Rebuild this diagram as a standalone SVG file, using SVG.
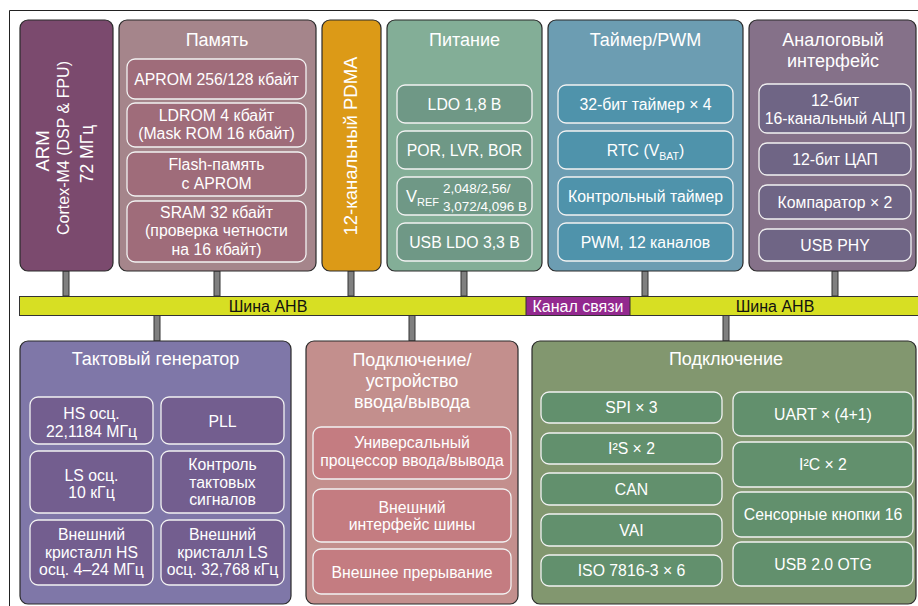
<svg xmlns="http://www.w3.org/2000/svg" width="918" height="606" viewBox="0 0 918 606">
  <defs>
    <style>
      .box { stroke: #2b2b2b; stroke-width: 1.2; }
      .sub { stroke: #f2f2f2; stroke-width: 1.3; }
      .link { fill: #808080; stroke: #333333; stroke-width: 1; }
      text { font-family: "Liberation Sans", Arial, sans-serif; fill: #ffffff; text-anchor: middle; }
      .title { font-size: 18px; }
      .t { font-size: 15.8px; }
      .small { font-size: 13.5px; text-anchor: start; }
      .bus { font-size: 16px; fill: #111111; }
    </style>
  </defs>

  <rect width="918" height="606" fill="#ffffff"/>
  <!-- outer frame -->
  <path d="M9.5 606 V10.5 H918" fill="none" stroke="#222222" stroke-width="1"/>

  <!-- bus stubs -->
  <g id="connectors">
    <rect class="link" x="63" y="271" width="6" height="25"/>
    <rect class="link" x="214" y="271" width="6" height="25"/>
    <rect class="link" x="348" y="271" width="6" height="25"/>
    <rect class="link" x="461" y="271" width="6" height="25"/>
    <rect class="link" x="642" y="271" width="6" height="25"/>
    <rect class="link" x="832" y="271" width="6" height="25"/>
    <rect class="link" x="154" y="315" width="6" height="26"/>
    <rect class="link" x="409" y="315" width="6" height="26"/>
    <rect class="link" x="723" y="315" width="6" height="26"/>
  </g>

  <!-- AHB bus -->
  <g id="bus">
    <rect x="19.5" y="296.5" width="900" height="19" fill="#d7df23" stroke="#333333" stroke-width="1"/>
    <rect x="526" y="296.5" width="104" height="19" fill="#93298f" stroke="#333333" stroke-width="1"/>
    <text class="bus" x="268" y="311.5">Шина AHB</text>
    <text class="bus" x="578" y="311.5" style="fill:#ffffff">Канал связи</text>
    <text class="bus" x="775" y="311.5">Шина AHB</text>
  </g>

  <!-- CPU core -->
  <g id="arm">
    <rect class="box" x="20" y="20" width="93" height="251" rx="8" fill="#7b4a6e"/>
    <text x="0" y="0" transform="translate(49 151) rotate(-90)" style="font-size:18.5px">ARM</text>
    <text x="0" y="0" transform="translate(68.5 148) rotate(-90)" style="font-size:16px">Cortex-M4 (DSP &amp; FPU)</text>
    <text x="0" y="0" transform="translate(93 154) rotate(-90)" style="font-size:17.5px">72 МГц</text>
  </g>

  <!-- memory -->
  <g id="memory">
    <rect class="box" x="119" y="20" width="197" height="251" rx="8" fill="#a5858b"/>
    <text class="title" x="217" y="46">Память</text>
    <rect class="sub" x="127" y="59" width="179" height="40" rx="8" fill="#9f6c7a"/>
    <text class="t" x="216.5" y="84.5">APROM 256/128 кбайт</text>
    <rect class="sub" x="127" y="103" width="179" height="44" rx="8" fill="#9f6c7a"/>
    <text class="t" x="216.5" y="121">LDROM 4 кбайт</text>
    <text class="t" x="216.5" y="139">(Mask ROM 16 кбайт)</text>
    <rect class="sub" x="127" y="152" width="179" height="44" rx="8" fill="#9f6c7a"/>
    <text class="t" x="216.5" y="170">Flash-память</text>
    <text class="t" x="216.5" y="188.5">с APROM</text>
    <rect class="sub" x="127" y="201" width="179" height="61" rx="8" fill="#9f6c7a"/>
    <text class="t" x="216.5" y="217.5">SRAM 32 кбайт</text>
    <text class="t" x="216.5" y="236">(проверка четности</text>
    <text class="t" x="216.5" y="254.5">на 16 кбайт)</text>
  </g>

  <!-- DMA -->
  <g id="pdma">
    <rect class="box" x="322" y="20" width="59" height="251" rx="8" fill="#dc9a17"/>
    <text x="0" y="0" transform="translate(357 146) rotate(-90)" style="font-size:18.5px">12-канальный PDMA</text>
  </g>

  <!-- power -->
  <g id="power">
    <rect class="box" x="387" y="20" width="155" height="251" rx="8" fill="#83ae97"/>
    <text class="title" x="464.5" y="46">Питание</text>
    <rect class="sub" x="397" y="85" width="135" height="38" rx="8" fill="#6f9886"/>
    <text class="t" x="464.5" y="109.5">LDO 1,8 В</text>
    <rect class="sub" x="397" y="131" width="135" height="38" rx="8" fill="#6f9886"/>
    <text class="t" x="464.5" y="155.5">POR, LVR, BOR</text>
    <rect class="sub" x="397" y="177" width="135" height="38" rx="8" fill="#6f9886"/>
    <text x="406" y="202" style="font-size:16.5px;text-anchor:start">V<tspan style="font-size:11px" dy="4">REF</tspan></text>
    <text class="small" x="443" y="192.5">2,048/2,56/</text>
    <text class="small" x="443" y="210.5">3,072/4,096 В</text>
    <rect class="sub" x="397" y="223" width="135" height="38" rx="8" fill="#6f9886"/>
    <text class="t" x="464.5" y="247.5">USB LDO 3,3 В</text>
  </g>

  <!-- timers -->
  <g id="timer">
    <rect class="box" x="548" y="20" width="195" height="251" rx="8" fill="#6c9db2"/>
    <text class="title" x="645.5" y="46">Таймер/PWM</text>
    <rect class="sub" x="558" y="85" width="175" height="38" rx="8" fill="#4f93ab"/>
    <text class="t" x="645.5" y="109.5">32-бит таймер × 4</text>
    <rect class="sub" x="558" y="131" width="175" height="38" rx="8" fill="#4f93ab"/>
    <text class="t" x="645.5" y="155.5">RTC (V<tspan style="font-size:10.5px" dy="4">BAT</tspan><tspan dy="-4">)</tspan></text>
    <rect class="sub" x="558" y="177" width="175" height="38" rx="8" fill="#4f93ab"/>
    <text class="t" x="645.5" y="201.5">Контрольный таймер</text>
    <rect class="sub" x="558" y="223" width="175" height="38" rx="8" fill="#4f93ab"/>
    <text class="t" x="645.5" y="247.5">PWM, 12 каналов</text>
  </g>

  <!-- analog -->
  <g id="analog">
    <rect class="box" x="749" y="20" width="167" height="251" rx="8" fill="#857189"/>
    <text class="title" x="833" y="46">Аналоговый</text>
    <text class="title" x="833" y="67">интерфейс</text>
    <rect class="sub" x="759" y="84" width="152" height="49" rx="8" fill="#6f6585"/>
    <text class="t" x="835" y="106">12-бит</text>
    <text class="t" x="835" y="124">16-канальный АЦП</text>
    <rect class="sub" x="759" y="143" width="152" height="32" rx="8" fill="#6f6585"/>
    <text class="t" x="835" y="164.5">12-бит ЦАП</text>
    <rect class="sub" x="759" y="185" width="152" height="34" rx="8" fill="#6f6585"/>
    <text class="t" x="835" y="207.5">Компаратор × 2</text>
    <rect class="sub" x="759" y="229" width="152" height="32" rx="8" fill="#6f6585"/>
    <text class="t" x="835" y="250.5">USB PHY</text>
  </g>

  <!-- clock -->
  <g id="clock">
    <rect class="box" x="20" y="341" width="271" height="263" rx="8" fill="#7f77a8"/>
    <text class="title" x="155.5" y="365">Тактовый генератор</text>
    <rect class="sub" x="30" y="397" width="123" height="47" rx="8" fill="#735e8f"/>
    <text class="t" x="91.5" y="418.5">HS осц.</text>
    <text class="t" x="91.5" y="436.5">22,1184 МГц</text>
    <rect class="sub" x="161" y="397" width="123" height="47" rx="8" fill="#735e8f"/>
    <text class="t" x="222.5" y="427">PLL</text>
    <rect class="sub" x="30" y="451" width="123" height="62" rx="8" fill="#735e8f"/>
    <text class="t" x="91.5" y="480.5">LS осц.</text>
    <text class="t" x="91.5" y="497.5">10 кГц</text>
    <rect class="sub" x="161" y="451" width="123" height="62" rx="8" fill="#735e8f"/>
    <text class="t" x="222.5" y="470">Контроль</text>
    <text class="t" x="222.5" y="487.5">тактовых</text>
    <text class="t" x="222.5" y="505">сигналов</text>
    <rect class="sub" x="30" y="520" width="123" height="65" rx="8" fill="#735e8f"/>
    <text class="t" x="91.5" y="540">Внешний</text>
    <text class="t" x="91.5" y="557.5">кристалл HS</text>
    <text class="t" x="91.5" y="575">осц. 4–24 МГц</text>
    <rect class="sub" x="161" y="520" width="123" height="65" rx="8" fill="#735e8f"/>
    <text class="t" x="222.5" y="540">Внешний</text>
    <text class="t" x="222.5" y="557.5">кристалл LS</text>
    <text class="t" x="222.5" y="575">осц. 32,768 кГц</text>
  </g>

  <!-- I/O -->
  <g id="io">
    <rect class="box" x="306" y="341" width="212" height="263" rx="8" fill="#c38f8d"/>
    <text class="title" x="412" y="366">Подключение/</text>
    <text class="title" x="412" y="387">устройство</text>
    <text class="title" x="412" y="408">ввода/вывода</text>
    <rect class="sub" x="313" y="427" width="198" height="52" rx="8" fill="#c47c81"/>
    <text class="t" x="412" y="447.5">Универсальный</text>
    <text class="t" x="412" y="465.5">процессор ввода/вывода</text>
    <rect class="sub" x="313" y="489" width="198" height="53" rx="8" fill="#c47c81"/>
    <text class="t" x="412" y="512.5">Внешний</text>
    <text class="t" x="412" y="529.5">интерфейс шины</text>
    <rect class="sub" x="313" y="549" width="198" height="45" rx="8" fill="#c47c81"/>
    <text class="t" x="412" y="577.5">Внешнее прерывание</text>
  </g>

  <!-- connectivity -->
  <g id="connectivity">
    <rect class="box" x="532" y="341" width="384" height="263" rx="8" fill="#82976f"/>
    <text class="title" x="726" y="365">Подключение</text>
    <rect class="sub" x="541" y="392" width="181" height="31" rx="8" fill="#62906d"/>
    <text class="t" x="631.5" y="413">SPI × 3</text>
    <rect class="sub" x="541" y="433" width="181" height="31" rx="8" fill="#62906d"/>
    <text class="t" x="631.5" y="454">I²S × 2</text>
    <rect class="sub" x="541" y="473" width="181" height="32" rx="8" fill="#62906d"/>
    <text class="t" x="631.5" y="494.5">CAN</text>
    <rect class="sub" x="541" y="514" width="181" height="32" rx="8" fill="#62906d"/>
    <text class="t" x="631.5" y="535.5">VAI</text>
    <rect class="sub" x="541" y="555" width="181" height="31" rx="8" fill="#62906d"/>
    <text class="t" x="631.5" y="576">ISO 7816-3 × 6</text>
    <rect class="sub" x="733" y="392" width="180" height="44" rx="8" fill="#62906d"/>
    <text class="t" x="823" y="419.5">UART × (4+1)</text>
    <rect class="sub" x="733" y="442" width="180" height="45" rx="8" fill="#62906d"/>
    <text class="t" x="823" y="470">I²C × 2</text>
    <rect class="sub" x="733" y="492" width="180" height="45" rx="8" fill="#62906d"/>
    <text class="t" x="823" y="520">Сенсорные кнопки 16</text>
    <rect class="sub" x="733" y="542" width="180" height="44" rx="8" fill="#62906d"/>
    <text class="t" x="823" y="569.5">USB 2.0 OTG</text>
  </g>
</svg>
